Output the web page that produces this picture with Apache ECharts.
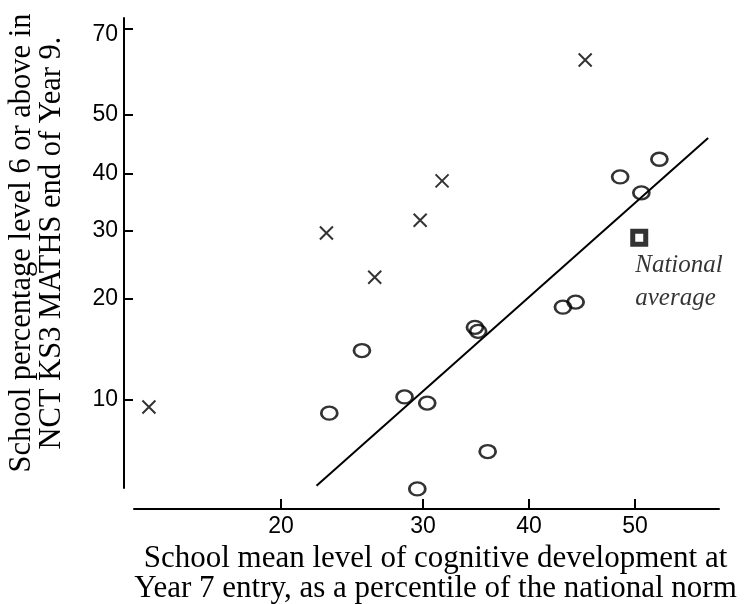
<!DOCTYPE html>
<html><head><meta charset="utf-8">
<script src="https://cdn.jsdelivr.net/npm/echarts@6/dist/echarts.min.js"></script>
<style>html,body{margin:0;padding:0;background:#fff}#c{width:751px;height:604px}</style>
</head><body><div id="c"></div>
<script>
// Tick labels
const xTicks = [20, 30, 40, 50];
const yTicks = [10, 20, 30, 40, 50, 70];
// Hand-drawn (non-linear) axis scales: where each tick value sits along its axis, in axis units
const xStops = [147, 289, 395, 501];          // x axis runs 0..585
const yStops = [88, 189, 257, 314, 373, 459]; // y axis runs 0..470

// Schools shown with crosses
const crossX = [45.3, 31.8, 29.8, 23.2, 26.6, 10.7];
const crossY = [62.8, 38.8, 31.9, 29.7, 23.2, 9.3];
// Schools shown with circles
const circleX = [48.6, 52.3, 50.6, 25.7, 23.4, 28.7, 30.4, 29.6, 34.9, 35.2, 43.2, 44.4, 36.1];
const circleY = [39.5, 42.5, 36.7, 14.9, 8.7, 10.3, 9.7, 1.2, 17.2, 16.8, 19.2, 19.7, 4.9];
// National average
const nationalX = [50.4];
const nationalY = [29.0];
// Fitted line end points
const fitX = [22.5, 56.9];
const fitY = [1.5, 46.1];

function scale(v, vals, stops) {
  const n = vals.length;
  let i = 0;
  if (v >= vals[n - 1]) i = n - 2;
  else if (v > vals[0]) { while (!(v >= vals[i] && v <= vals[i + 1])) i++; }
  return stops[i] + (v - vals[i]) * (stops[i + 1] - stops[i]) / (vals[i + 1] - vals[i]);
}
const sx = v => scale(v, xTicks, xStops);
const sy = v => scale(v, yTicks, yStops);
function tickIndex(v, stops) {
  let best = 0;
  for (let i = 1; i < stops.length; i++) if (Math.abs(stops[i] - v) < Math.abs(stops[best] - v)) best = i;
  return best;
}
const pts = (xs, ys) => xs.map((x, i) => [sx(x), sy(ys[i])]);

const serif = '"Liberation Serif", "Times New Roman", serif';
const sans = '"Liberation Sans", Arial, sans-serif';

const chart = echarts.init(document.getElementById('c'), null, {renderer: 'canvas'});
chart.setOption({
  animation: false,
  backgroundColor: '#fff',
  grid: {left: 134, right: 32, top: 18, bottom: 116, containLabel: false, outerBoundsMode: 'none'},
  xAxis: {
    type: 'value', min: 0, max: 585, offset: 21,
    axisLine: {show: true, onZero: false, lineStyle: {color: '#000', width: 2}},
    axisTick: {show: true, inside: true, length: 10, customValues: xStops, lineStyle: {color: '#000', width: 2}},
    axisLabel: {show: true, customValues: xStops, margin: 6, color: '#000', fontFamily: sans, fontSize: 23,
      formatter: v => String(xTicks[tickIndex(v, xStops)])},
    splitLine: {show: false},
    name: 'School mean level of cognitive development at\nYear 7 entry, as a percentile of the national norm',
    nameLocation: 'middle', nameGap: 35, nameMoveOverlap: false,
    nameTextStyle: {color: '#000', fontFamily: serif, fontSize: 31, lineHeight: 30, padding: [0, 0, 0, 18]}
  },
  yAxis: {
    type: 'value', min: 0, max: 470, offset: 10,
    axisLine: {show: true, onZero: false, lineStyle: {color: '#000', width: 2}},
    axisTick: {show: true, inside: true, length: 9, customValues: yStops, lineStyle: {color: '#000', width: 2}},
    axisLabel: {show: true, customValues: yStops, margin: 6, color: '#000', fontFamily: sans, fontSize: 23,
      formatter: v => {
        const i = tickIndex(v, yStops);
        return i === yStops.length - 1 ? '{low|' + yTicks[i] + '}' : String(yTicks[i]);
      },
      rich: {low: {fontFamily: sans, fontSize: 23, color: '#000', padding: [12, 0, 0, 0]}}},
    splitLine: {show: false},
    name: 'School percentage level 6 or above in\nNCT KS3 MATHS end of Year 9.',
    nameLocation: 'middle', nameGap: 57, nameMoveOverlap: false,
    nameTextStyle: {color: '#000', fontFamily: serif, fontSize: 30.5, lineHeight: 30, padding: [0, 0, 0, 20]}
  },
  series: [
    {
      type: 'line', data: pts(fitX, fitY), symbol: 'none', clip: false, silent: true,
      lineStyle: {color: '#000', width: 2}
    },
    {
      type: 'scatter', data: pts(crossX, crossY), clip: false, silent: true,
      symbol: 'path://M0,0L10,10M10,0L0,10', symbolSize: 13,
      itemStyle: {color: 'rgba(0,0,0,0)', borderColor: '#000', borderWidth: 2}
    },
    {
      type: 'scatter', data: pts(circleX, circleY), clip: false, silent: true,
      symbol: 'circle', symbolSize: [16, 13],
      itemStyle: {color: 'rgba(0,0,0,0)', borderColor: '#000', borderWidth: 2.5}
    },
    {
      type: 'scatter', data: pts(nationalX, nationalY), clip: false, silent: true,
      symbol: 'rect', symbolSize: 13,
      itemStyle: {color: '#fff', borderColor: '#000', borderWidth: 5},
      label: {show: true, formatter: 'National\naverage', position: [5, 20], align: 'left', verticalAlign: 'top',
        color: '#000', fontFamily: serif, fontStyle: 'italic', fontSize: 25, lineHeight: 33}
    }
  ]
});
</script></body></html>
